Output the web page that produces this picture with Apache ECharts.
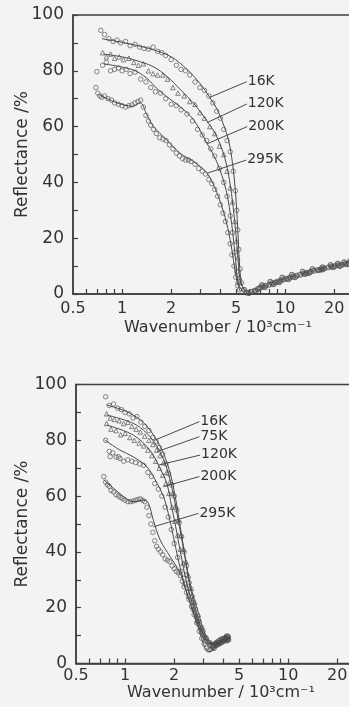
<!DOCTYPE html>
<html>
<head>
<meta charset="utf-8">
<script src="https://cdn.jsdelivr.net/npm/echarts@6/dist/echarts.min.js"></script>
<style>
html,body{margin:0;padding:0;background:#f3f3f1;}
#c{width:349px;height:707px;}
</style>
</head>
<body>
<div id="c"></div>
<script>
// ---------- axis values ----------
const xLabelValues = [0.5, 1, 2, 5, 10, 20];
const xTickValues = [0.6, 0.7, 0.8, 0.9, 1, 2, 3, 4, 5, 6, 7, 8, 9, 10, 20];
const xMin = 0.5, xMax = 30;
const yMin = 0, yMax = 100;

// ---------- top panel (wavenumber 10^3 cm^-1, reflectance %) ----------
const topNames = ['16K', '120K', '200K', '295K'];
const top16Line = [[0.75,91.5],[1.0,90.2],[1.5,87.8],[2.0,85],[2.5,80.5],[3.0,75.5],[3.4,71],[3.8,66.5],[4.2,60.5],[4.5,55],[4.75,47],[4.95,37],[5.08,27],[5.17,18],[5.27,9],[5.45,3],[5.8,0.8]];
const top120Line = [[0.77,86],[1.0,85],[1.2,83.8],[1.55,81.5],[1.9,77.8],[2.3,73],[2.75,68.3],[3.3,62.2],[3.8,56.5],[4.25,49],[4.55,41],[4.8,31],[5.0,21],[5.15,12],[5.33,4],[5.7,1]];
const top200Line = [[0.77,82.5],[1.17,80.3],[1.42,77.3],[1.63,73.7],[1.88,70.7],[2.27,67.1],[2.74,62.5],[3.3,54.2],[3.8,47.5],[4.35,37],[4.7,25],[4.95,13],[5.17,3.5],[5.5,1]];
const top295Line = [[0.73,71.3],[0.93,68.5],[1.17,67.3],[1.29,68.5],[1.42,64.2],[1.56,60],[1.88,55.2],[2.27,50.4],[2.74,47.5],[3.3,43.5],[3.8,36.5],[4.28,27.5],[4.6,19.5],[4.82,12],[5.05,5],[5.3,1]];

const top16Pts = [[0.74,94.5],[0.78,93],[0.83,91.5],[0.88,90.5],[0.93,91],[0.98,90],[1.05,90.5],[1.12,89],[1.2,89.5],[1.28,88.5],[1.36,88],[1.45,87.8],[1.55,88.5],[1.65,87],[1.75,86.5],[1.85,85.5],[2.0,84],[2.15,82],[2.3,80.5],[2.45,80],[2.6,78.5],[2.8,76],[3.0,74],[3.2,73],[3.4,71],[3.6,68.5],[3.8,65.5],[4.0,63],[4.2,59],[4.4,55],[4.6,51],[4.8,44],[4.95,37],[5.05,30],[5.12,23],[5.2,16],[5.3,9],[5.4,4]];
const top120Pts = [[0.76,86.5],[0.8,85],[0.85,86],[0.9,84.5],[0.96,85],[1.02,84],[1.1,84.5],[1.18,83],[1.26,82],[1.35,82.5],[1.45,80],[1.55,79],[1.65,78.5],[1.78,78.5],[1.9,77],[2.05,74],[2.2,72],[2.4,71],[2.6,69],[2.8,68],[3.0,65],[3.2,63],[3.45,60],[3.7,57.5],[3.95,53],[4.2,50],[4.4,44],[4.6,38],[4.75,33],[4.9,26],[5.02,19],[5.12,13],[5.25,6]];
const top200Pts = [[0.70,79.7],[0.76,82],[0.8,83],[0.85,80],[0.9,80.5],[0.95,81],[1.0,80],[1.06,80.5],[1.12,79],[1.2,79.5],[1.3,77],[1.4,76],[1.5,74],[1.6,72.5],[1.72,72],[1.85,70],[2.0,68],[2.15,67.5],[2.3,66],[2.5,64.5],[2.7,62],[2.9,59],[3.1,57],[3.3,55],[3.5,52],[3.7,49.5],[3.95,45],[4.2,40],[4.4,35],[4.6,28],[4.75,22],[4.9,15],[5.05,8],[5.15,4]];
const top295Pts = [[0.69,74],[0.71,72],[0.73,71],[0.75,70.5],[0.78,71],[0.82,70],[0.86,69.5],[0.9,68.5],[0.95,68],[1.0,67.5],[1.05,67],[1.1,67.5],[1.15,67.8],[1.2,68.5],[1.25,69],[1.3,69.5],[1.35,67],[1.4,64],[1.45,62],[1.5,60.5],[1.56,59],[1.62,57.5],[1.7,56],[1.78,55.5],[1.86,55],[1.95,53.5],[2.05,52],[2.15,50.5],[2.25,49.5],[2.35,48.5],[2.45,48],[2.55,48],[2.65,47.5],[2.8,46.5],[2.95,45],[3.1,44],[3.25,43],[3.4,41],[3.55,39.5],[3.7,37.5],[3.85,35],[4.0,32],[4.15,29],[4.3,26],[4.45,22],[4.6,18],[4.72,14],[4.85,10],[4.97,6],[5.1,3],[5.25,1.5]];
const topTailPts = [[5.6,1.5],[5.8,0.5],[6.0,0.3],[6.2,0.8],[6.5,1.2],[6.8,1.8],[7.0,2.2],[7.3,2.6],[7.6,3.0],[8.0,3.3],[8.3,3.8],[8.7,4.1],[9.0,4.5],[9.4,4.8],[9.8,5.2],[10.2,5.5],[10.7,5.9],[11.2,6.2],[11.8,6.6],[12.4,6.9],[13,7.3],[13.6,7.6],[14.3,8],[15,8.3],[15.8,8.6],[16.6,8.9],[17.4,9.2],[18.3,9.5],[19.2,9.8],[20.2,10],[21.2,10.3],[22.3,10.5],[23.4,10.8],[24.6,11],[25.8,11.2],[7.5,2.4],[9.2,4.2],[11.5,6],[14,7.5],[17,8.8],[21.7,10],[6.6,1.0],[8.5,3.5],[10.5,5.3],[13.3,7.2],[16.2,8.5],[19.7,9.6],[24,10.6],[7.2,3.2],[8.1,4.4],[9.6,5.9],[11,6.9],[12.8,8],[14.7,8.9],[16.9,9.6],[19,10.4],[21,10.9],[23,11.4],[25,11.8]];

const topAnnFrom = [[3.42,70.4],[3.31,61.4],[3.31,53.8],[3.37,43.4]];
const topAnnTo = [[5.82,76.1],[5.82,68.1],[5.85,60],[5.77,48]];

// ---------- bottom panel ----------
const botNames = ['16K', '75K', '120K', '200K', '295K'];
const bot16Line = [[0.77,92.7],[1.02,90.3],[1.24,87.3],[1.42,83.7],[1.56,80.1],[1.72,75.3],[1.89,68.2],[2.03,59.8],[2.18,49],[2.33,38.3],[2.5,27.5],[2.75,18],[3.02,10.8],[3.3,7.5],[3.6,7.6],[3.9,8.5],[4.3,9]];
const bot75Line = [[0.77,89.1],[1.12,86.1],[1.36,82.5],[1.57,77.7],[1.76,71.8],[1.93,63.4],[2.08,53.8],[2.23,44.3],[2.39,34.7],[2.56,26.3],[2.82,18],[3.09,10.8],[3.4,7.2],[3.7,7.5],[4.0,8.3],[4.3,8.8]];
const bot120Line = [[0.77,85.5],[1.12,81.9],[1.42,76.5],[1.6,71.1],[1.8,64.6],[1.93,56.2],[2.08,46.7],[2.23,37.1],[2.39,28.7],[2.62,20.4],[2.88,13.2],[3.17,8],[3.45,6.6],[3.8,7.4],[4.3,8.6]];
const bot200Line = [[0.75,80.1],[0.93,76.5],[1.12,74.1],[1.36,70.5],[1.57,64.6],[1.72,59.8],[1.84,53.8],[1.98,45.4],[2.12,37.1],[2.33,27.5],[2.56,20.4],[2.88,12],[3.17,7],[3.45,5.6],[3.8,7],[4.3,8.5]];
const bot295Line = [[0.74,65.8],[0.85,62.8],[0.98,59.8],[1.12,58],[1.22,58.3],[1.3,58.6],[1.39,57.4],[1.49,51.4],[1.64,44.3],[1.89,38.3],[2.18,32.3],[2.39,25.2],[2.62,18],[2.88,10.8],[3.1,5.5],[3.32,4.2],[3.6,6],[3.85,7.8],[4.3,8.8]];

const bot16Pts = [[0.76,95.6],[0.8,92.5],[0.85,93],[0.9,91.5],[0.95,91],[1.0,90],[1.06,89.5],[1.12,88],[1.18,88.5],[1.25,86.5],[1.32,85],[1.4,83.5],[1.48,81],[1.55,79.5],[1.62,77.5],[1.7,75],[1.78,71.5],[1.85,68],[1.93,64],[2.0,60],[2.08,55],[2.15,50.5],[2.22,45.5],[2.3,40],[2.38,35],[2.47,29],[2.58,24],[2.7,19.5],[2.85,15],[3.0,11.5],[3.15,9],[3.3,7.5]];
const bot75Pts = [[0.77,89.5],[0.81,88],[0.86,87.5],[0.92,87],[0.98,86],[1.04,86.5],[1.1,85],[1.17,84],[1.24,83],[1.32,81.5],[1.4,80],[1.48,78.5],[1.56,76.5],[1.64,74.5],[1.72,72],[1.8,68.5],[1.88,65],[1.96,61],[2.04,56.5],[2.12,51.5],[2.2,46],[2.28,41],[2.36,36.5],[2.45,31.5],[2.55,27],[2.68,22],[2.82,17.5],[2.98,13],[3.15,9.5],[3.35,7.5]];
const bot120Pts = [[0.77,86],[0.82,84],[0.88,83.5],[0.94,82],[1.0,82.5],[1.07,81],[1.14,80],[1.22,79],[1.3,78],[1.38,76.5],[1.46,74.5],[1.54,72.5],[1.62,70],[1.7,67.5],[1.78,64.5],[1.86,61],[1.94,56],[2.02,51],[2.1,46],[2.18,41],[2.27,36],[2.36,32],[2.47,27],[2.6,22],[2.74,17],[2.9,13],[3.07,10],[3.25,8]];
const bot200Pts = [[0.76,80],[0.8,76],[0.81,74.1],[0.84,75.5],[0.88,74],[0.91,74.1],[0.93,73.5],[0.98,72.5],[1.04,73],[1.1,72.5],[1.16,72],[1.23,71.5],[1.3,71],[1.38,68.5],[1.45,67],[1.52,64.5],[1.6,62.5],[1.68,60],[1.76,56],[1.84,52.5],[1.92,48],[2.0,43],[2.1,38],[2.2,33],[2.32,28.5],[2.45,24],[2.6,19.5],[2.78,15],[2.95,11],[3.12,8],[3.3,6.5]];
const bot295Pts = [[0.74,67],[0.76,65],[0.78,64],[0.8,63.5],[0.82,62],[0.85,61.5],[0.88,60.5],[0.91,60],[0.94,59.5],[0.97,59],[1.0,58.5],[1.04,58],[1.08,58],[1.12,58.2],[1.16,58.5],[1.2,58.8],[1.24,59],[1.28,58.5],[1.32,58],[1.36,56],[1.4,53],[1.44,50],[1.48,47],[1.52,44],[1.56,42],[1.6,41],[1.65,40],[1.7,39],[1.76,37.5],[1.82,37],[1.88,36.5],[1.94,35],[2.0,34],[2.06,33],[2.12,32.5],[2.18,31.5],[2.24,29.5],[2.3,27.5],[2.38,25.5],[2.46,23],[2.55,20.5],[2.65,17.5],[2.75,14.5],[2.85,11.5],[2.95,9],[3.05,7],[3.15,5.5],[3.25,4.8],[3.35,5.2]];
const botTailPts = [[3.45,6],[3.55,7],[3.65,7.5],[3.75,8],[3.85,8.5],[3.95,8.8],[4.05,9],[4.15,9.2],[4.25,9],[4.3,8.5],[3.6,6.5],[3.8,7.2],[4.0,8],[4.2,8.2],[3.5,5.5],[3.7,6.8],[3.9,7.6],[4.1,8.4],[4.28,9.6],[4.2,9.8]];

const botAnnFrom = [[1.528,80.1],[1.565,75.9],[1.601,71.1],[1.718,63.4],[1.491,49]];
const botAnnTo = [[2.857,86.7],[2.857,81.3],[2.885,74.7],[2.857,67],[2.817,53.8]];

// ---------- build ----------
const L = v => Math.log10(v);
const tr = arr => arr.map(p => [L(p[0]), p[1]]);
const fmt = v => String(Number(Math.pow(10, v).toPrecision(3)));
const INK = '#3f3f3f';
const FONT = 'DejaVu Sans';

function xAxisCfg(g, labelMargin, nameGap) {
  return {
    type: 'value', gridIndex: g, min: L(xMin), max: L(xMax),
    splitLine: {show: false},
    axisLine: {show: true, onZero: false, lineStyle: {color: INK, width: 1.5}},
    axisTick: {show: true, inside: true, length: 5, customValues: xTickValues.map(L), lineStyle: {color: INK, width: 1.2}},
    axisLabel: {customValues: xLabelValues.map(L), formatter: fmt, color: '#333', fontFamily: FONT, fontSize: 16, margin: labelMargin},
    name: 'Wavenumber / 10³cm⁻¹', nameLocation: 'middle', nameGap: nameGap,
    nameTextStyle: {color: '#333', fontFamily: FONT, fontSize: 16}
  };
}
function yAxisCfg(g, nameGap) {
  return {
    type: 'value', gridIndex: g, min: yMin, max: yMax, interval: 10,
    splitLine: {show: false},
    axisLine: {show: true, onZero: false, lineStyle: {color: INK, width: 1.5}},
    axisTick: {show: true, inside: true, length: 5, lineStyle: {color: INK, width: 1.2}},
    axisLabel: {formatter: v => (v % 20 === 0 ? String(v) : ''), color: '#333', fontFamily: FONT, fontSize: 17, margin: 9},
    name: 'Reflectance /%', nameLocation: 'middle', nameGap: nameGap, nameRotate: 90,
    nameMoveOverlap: false,
    nameTextStyle: {color: '#333', fontFamily: FONT, fontSize: 17}
  };
}

const series = [];
function addPanel(g, names, lines, pts, tail, annFrom, annTo, symbols) {
  names.forEach((n, i) => {
    series.push({
      type: 'scatter', xAxisIndex: g, yAxisIndex: g, data: tr(pts[i]),
      symbol: symbols[i], symbolSize: 4.5, silent: true,
      itemStyle: {color: 'rgba(0,0,0,0)', borderColor: '#666', borderWidth: 1}
    });
    series.push({
      type: 'line', xAxisIndex: g, yAxisIndex: g, data: tr(lines[i]),
      smooth: 0.35, showSymbol: false, silent: true,
      lineStyle: {color: '#4a4a4a', width: 1},
      markLine: {
        silent: true, symbol: 'none',
        lineStyle: {color: '#4a4a4a', width: 1, type: 'solid'},
        label: {show: true, position: 'end', formatter: n, color: '#333', fontFamily: FONT, fontSize: 14, distance: 1},
        data: [[{coord: [L(annFrom[i][0]), annFrom[i][1]]}, {coord: [L(annTo[i][0]), annTo[i][1]]}]]
      }
    });
  });
  series.push({
    type: 'scatter', xAxisIndex: g, yAxisIndex: g, data: tr(tail),
    symbol: 'circle', symbolSize: 5, silent: true,
    itemStyle: {color: 'rgba(80,80,80,0.35)', borderColor: '#4a4a4a', borderWidth: 1}
  });
}
addPanel(0, topNames, [top16Line, top120Line, top200Line, top295Line],
  [top16Pts, top120Pts, top200Pts, top295Pts], topTailPts, topAnnFrom, topAnnTo,
  ['circle', 'triangle', 'circle', 'circle']);
addPanel(1, botNames, [bot16Line, bot75Line, bot120Line, bot200Line, bot295Line],
  [bot16Pts, bot75Pts, bot120Pts, bot200Pts, bot295Pts], botTailPts, botAnnFrom, botAnnTo,
  ['circle', 'triangle', 'triangle', 'circle', 'circle']);

const chart = echarts.init(document.getElementById('c'), null, {renderer: 'canvas'});
chart.setOption({
  backgroundColor: '#f3f3f1',
  animation: false,
  grid: [
    {left: 73, top: 15, height: 279, right: -14, show: true, borderColor: INK, borderWidth: 1.5, backgroundColor: 'transparent', outerBoundsMode: 'none', containLabel: false},
    {left: 76, top: 384.5, height: 279, right: -17, show: true, borderColor: INK, borderWidth: 1.5, backgroundColor: 'transparent', outerBoundsMode: 'none', containLabel: false}
  ],
  xAxis: [xAxisCfg(0, 7, 26), xAxisCfg(1, 4, 21)],
  yAxis: [yAxisCfg(0, 42), yAxisCfg(1, 45)],
  series: series
});
</script>
</body>
</html>
